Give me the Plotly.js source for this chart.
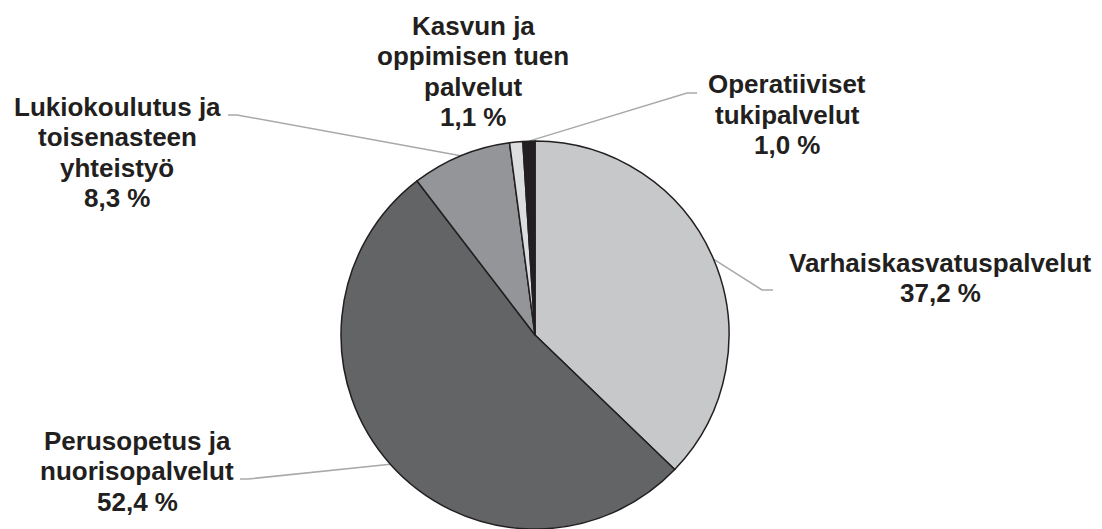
<!DOCTYPE html>
<html>
<head>
<meta charset="utf-8">
<script src="https://cdn.plot.ly/plotly-3.0.1.min.js"></script>
<style>
  html, body { margin: 0; padding: 0; background: #ffffff; }
  #chart { width: 1102px; height: 529px; }
</style>
</head>
<body>
<div id="chart"></div>
<script>
// ---- Data ----
const categories = [
  'Varhaiskasvatuspalvelut',
  'Perusopetus ja nuorisopalvelut',
  'Lukiokoulutus ja toisenasteen yhteistyö',
  'Kasvun ja oppimisen tuen palvelut',
  'Operatiiviset tukipalvelut'
];
const values = [37.2, 52.4, 8.3, 1.1, 1.0];
const labelLines = [
  ['Varhaiskasvatuspalvelut'],
  ['Perusopetus ja', 'nuorisopalvelut'],
  ['Lukiokoulutus ja', 'toisenasteen', 'yhteistyö'],
  ['Kasvun ja', 'oppimisen tuen', 'palvelut'],
  ['Operatiiviset', 'tukipalvelut']
];

// ---- Styling / layout positions ----
const colors = ['#c7c8ca', '#636466', '#939598', '#dcdddf', '#231f20'];
const W = 1102, H = 529;
const domX = [341 / W, 729 / W];
const domY = [0, 388 / H];
const labelX = [940, 137, 117, 473, 787];          // px, label centers
const labelTop = [263, 441, 107, 26, 84.5];        // px, first line centre
const lineGap = 30.4;
const elbows = [                                   // px, leader line bends
  [[762, 290], [773, 290]],
  [[248, 479], [240, 479]],
  [[237, 115], [228, 115]],
  null,
  [[687, 93], [697, 93]]
];
const textColor = '#231f20';
const fontFam = '"Liberation Sans", Arial, sans-serif';
const fontSize = 26;

function fmt(v) { return v.toFixed(1).replace('.', ',') + ' %'; }
function px2x(p) { return p / W; }
function px2y(p) { return 1 - p / H; }

// Pie geometry (px)
const cx = (domX[0] + domX[1]) / 2 * W;
const cy = H - (domY[0] + domY[1]) / 2 * H;
const r = Math.min((domX[1] - domX[0]) * W, (domY[1] - domY[0]) * H) / 2;
const total = values.reduce((a, b) => a + b, 0);

const annotations = [];
const shapes = [];
let cum = 0;
values.forEach((v, i) => {
  const mid = (cum + v / 2) / total * 2 * Math.PI;
  cum += v;
  const ex = cx + r * Math.sin(mid);
  const ey = cy - r * Math.cos(mid);
  const lines = labelLines[i].concat([fmt(v)]);
  lines.forEach((t, k) => {
    annotations.push({
      text: t, showarrow: false, xref: 'paper', yref: 'paper',
      x: px2x(labelX[i]), y: px2y(labelTop[i] + k * lineGap),
      xanchor: 'center', yanchor: 'middle',
      font: { family: fontFam, size: fontSize, color: textColor, weight: 700 }
    });
  });
  if (elbows[i]) {
    let path = 'M ' + px2x(ex) + ',' + px2y(ey);
    elbows[i].forEach(p => { path += ' L ' + px2x(p[0]) + ',' + px2y(p[1]); });
    shapes.push({
      type: 'path', xref: 'paper', yref: 'paper', path: path,
      line: { color: '#a7a9ac', width: 1.5 }, layer: 'below'
    });
  }
});

const trace = {
  type: 'pie',
  labels: categories,
  values: values,
  sort: false,
  direction: 'clockwise',
  rotation: 0,
  textinfo: 'none',
  hoverinfo: 'label+percent',
  marker: { colors: colors, line: { color: '#231f20', width: 1.5 } },
  domain: { x: domX, y: domY },
  showlegend: false
};

const layout = {
  width: W, height: H,
  margin: { l: 0, r: 0, t: 0, b: 0, pad: 0 },
  paper_bgcolor: '#ffffff',
  plot_bgcolor: '#ffffff',
  showlegend: false,
  annotations: annotations,
  shapes: shapes
};

Plotly.newPlot('chart', [trace], layout, { staticPlot: true, displayModeBar: false });
</script>
</body>
</html>
